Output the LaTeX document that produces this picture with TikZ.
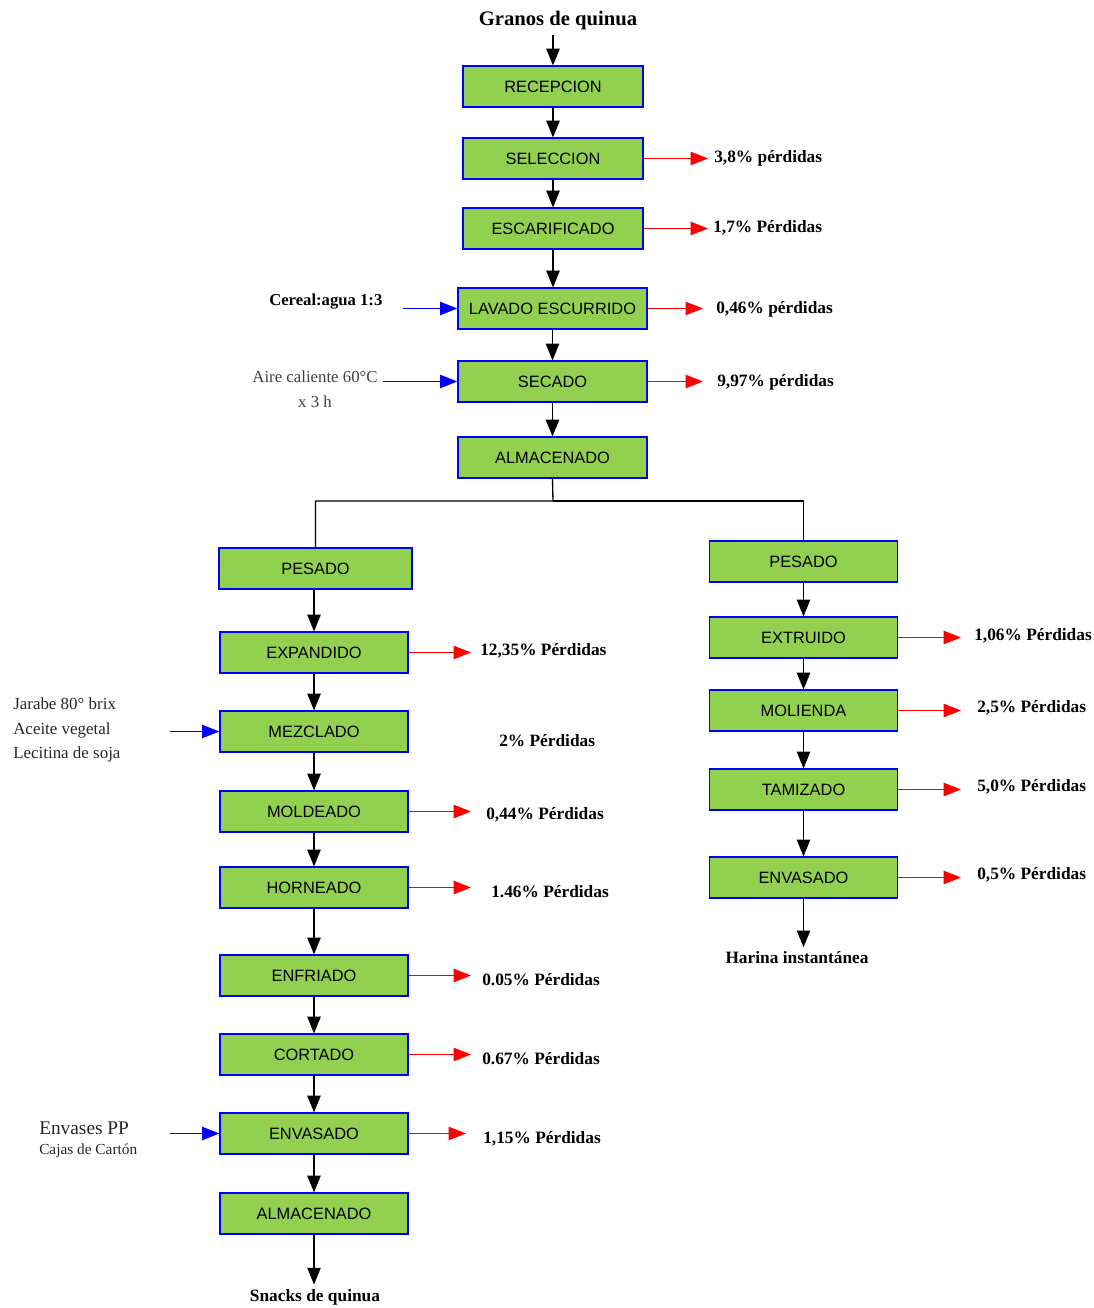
\documentclass[tikz,border=0pt]{standalone}
\usepackage{fontspec}
\setmainfont{Liberation Serif}
\setsansfont{Liberation Sans}
\usetikzlibrary{arrows.meta}
\definecolor{boxgreen}{RGB}{146,208,80}
\begin{document}
\begin{tikzpicture}[x=0.75pt,y=-0.75pt,
  stage/.style={draw=blue, fill=boxgreen, line width=0.9pt, minimum height=30.75pt,
    inner sep=0pt, font=\sffamily\fontsize{12.3}{14}\selectfont},
  narrowbox/.style={stage, minimum width=135pt},
  widebox/.style={stage, minimum width=141.75pt},
  colbox/.style={stage, minimum width=141pt},
  lossl/.style={anchor=west, inner xsep=0pt, font=\bfseries\fontsize{13}{15}\selectfont},
  endl/.style={font=\bfseries\fontsize{13}{15}\selectfont},
  flow/.style={draw=black, line width=1pt, -{Triangle[length=12.5pt,width=10pt]}},
  loss/.style={draw=red, line width=1pt, -{Triangle[length=13pt,width=10pt]}},
  feed/.style={draw=blue, line width=1pt, -{Triangle[length=13pt,width=10pt]}},
  link/.style={draw=black, line width=1pt}
]
\useasboundingbox (0,0) rectangle (1093,1308);

% ---------- common trunk ----------
\node[font=\bfseries\fontsize{15.5}{18}\selectfont] (granos) at (558,21) {Granos de quinua};
\node[narrowbox] (rec) at (553,86.5) {RECEPCION};
\node[narrowbox] (sel) at (553,158.5) {SELECCION};
\node[narrowbox] (esc) at (553,228.5) {ESCARIFICADO};
\node[widebox] (lav) at (552.5,308.5) {LAVADO ESCURRIDO};
\node[widebox] (sec) at (552.5,381.5) {SECADO};
\node[widebox] (alm) at (552.5,457.5) {ALMACENADO};

\draw[flow] (granos.south -| rec.north) -- (rec.north);
\draw[flow] (rec) -- (sel);
\draw[flow] (sel) -- (esc);
\draw[flow] (esc.south) -- (esc.south |- lav.north);
\draw[flow] (lav) -- (sec);
\draw[flow] (sec) -- (alm);

% losses of the trunk
\coordinate (tsel) at (708,158);
\coordinate (tesc) at (708,229);
\coordinate (tlav) at (703,309);
\coordinate (tsec) at (703,381);
\node[lossl] (psel) at (714,158) {3,8\% pérdidas};
\node[lossl] (pesc) at (713,228) {1,7\% Pérdidas};
\node[lossl] (plav) at (716,309) {0,46\% pérdidas};
\node[lossl] (psec) at (717,382) {9,97\% pérdidas};
\draw[loss] (sel.east) -- (sel.east -| tsel);
\draw[loss] (esc.east) -- (esc.east -| tesc);
\draw[loss] (lav.east) -- (lav.east -| tlav);
\draw[loss] (sec.east) -- (sec.east -| tsec);

% inputs of the trunk
\node[anchor=west, inner xsep=0pt, font=\bfseries\fontsize{12.5}{15}\selectfont] (cereal) at (269,302) {Cereal:agua 1:3};
\coordinate (scereal) at (403,309);
\draw[feed] (scereal |- lav.west) -- (lav.west);
\node[align=center, text=black!75, font=\fontsize{12.6}{18.75}\selectfont] (aire) at (315,389) {Aire caliente 60°C\\x 3 h};
\coordinate (saire) at (383,381);
\draw[feed] (saire |- sec.west) -- (sec.west);

% ---------- split ----------
\coordinate (split) at (553,501);

% ---------- snacks line ----------
\node[stage, minimum width=144.75pt] (lpes) at (315.5,568.5) {PESADO};
\node[colbox] (lexp) at (314,652.5) {EXPANDIDO};
\node[colbox] (lmez) at (314,731.5) {MEZCLADO};
\node[colbox] (lmol) at (314,811.5) {MOLDEADO};
\node[colbox] (lhor) at (314,887.5) {HORNEADO};
\node[colbox] (lenf) at (314,975.5) {ENFRIADO};
\node[colbox] (lcor) at (314,1054.5) {CORTADO};
\node[colbox] (lenv) at (314,1133.5) {ENVASADO};
\node[colbox] (lalm) at (314,1213.5) {ALMACENADO};
\node[endl] (snacks) at (315,1297) {Snacks de quinua};

\draw[link] (alm.south) -- (split) -| (lpes.north);
\draw[flow] (lpes.south -| lexp.north) -- (lexp.north);
\draw[flow] (lexp) -- (lmez);
\draw[flow] (lmez) -- (lmol);
\draw[flow] (lmol) -- (lhor);
\draw[flow] (lhor) -- (lenf);
\draw[flow] (lenf) -- (lcor);
\draw[flow] (lcor) -- (lenv);
\draw[flow] (lenv) -- (lalm);
\draw[flow] (lalm.south) -- (lalm.south |- snacks.north);

\coordinate (tlexp) at (471,653);
\coordinate (tlmol) at (471,812);
\coordinate (tlhor) at (471,888);
\coordinate (tlenf) at (471,975);
\coordinate (tlcor) at (471,1055);
\coordinate (tlenv) at (466,1134);
\node[lossl] (plexp) at (480,651) {12,35\% Pérdidas};
\node[lossl] (plmez) at (499,741) {2\% Pérdidas};
\node[lossl] (plmol) at (486,815) {0,44\% Pérdidas};
\node[lossl] (plhor) at (491,892) {1.46\% Pérdidas};
\node[lossl] (plenf) at (482,980) {0.05\% Pérdidas};
\node[lossl] (plcor) at (482,1059) {0.67\% Pérdidas};
\node[lossl] (plenv) at (483,1139) {1,15\% Pérdidas};
\draw[loss] (lexp.east) -- (lexp.east -| tlexp);
\draw[loss] (lmol.east) -- (lmol.east -| tlmol);
\draw[loss] (lhor.east) -- (lhor.east -| tlhor);
\draw[loss] (lenf.east) -- (lenf.east -| tlenf);
\draw[loss] (lcor.east) -- (lcor.east -| tlcor);
\draw[loss] (lenv.east) -- (lenv.east -| tlenv);

% inputs of the snacks line
\node[anchor=west, inner xsep=0pt, align=left, text=black!85, font=\fontsize{12.7}{18.4}\selectfont] (jarabe) at (13,730) {Jarabe 80° brix\\Aceite vegetal\\Lecitina de soja};
\coordinate (smez) at (170,732);
\draw[feed] (smez |- lmez.west) -- (lmez.west);
\node[anchor=west, inner xsep=0pt, text=black!85, font=\fontsize{14.5}{17}\selectfont] (envpp) at (39,1128) {Envases PP};
\node[anchor=west, inner xsep=0pt, text=black!85, font=\fontsize{11.5}{14}\selectfont] (cajas) at (39,1151) {Cajas de Cartón};
\coordinate (senv) at (170,1134);
\draw[feed] (senv |- lenv.west) -- (lenv.west);

% ---------- flour line ----------
\node[colbox] (rpes) at (803.5,561.5) {PESADO};
\node[colbox] (rext) at (803.5,637.5) {EXTRUIDO};
\node[colbox] (rmol) at (803.5,710.5) {MOLIENDA};
\node[colbox] (rtam) at (803.5,789.5) {TAMIZADO};
\node[colbox] (renv) at (803.5,877.5) {ENVASADO};
\node[endl] (harina) at (797,958) {Harina instantánea};

\draw[link] (split) -| (rpes.north);
\draw[flow] (rpes) -- (rext);
\draw[flow] (rext) -- (rmol);
\draw[flow] (rmol) -- (rtam);
\draw[flow] (rtam) -- (renv);
\draw[flow] (renv.south) -- (renv.south |- harina.north);

\coordinate (trext) at (961,638);
\coordinate (trmol) at (961,711);
\coordinate (trtam) at (961,790);
\coordinate (trenv) at (961,878);
\node[lossl] (prext) at (974,636) {1,06\% Pérdidas};
\node[lossl] (prmol) at (977,708) {2,5\% Pérdidas};
\node[lossl] (prtam) at (977,787) {5,0\% Pérdidas};
\node[lossl] (prenv) at (977,875) {0,5\% Pérdidas};
\draw[loss] (rext.east) -- (rext.east -| trext);
\draw[loss] (rmol.east) -- (rmol.east -| trmol);
\draw[loss] (rtam.east) -- (rtam.east -| trtam);
\draw[loss] (renv.east) -- (renv.east -| trenv);
\end{tikzpicture}
\end{document}
